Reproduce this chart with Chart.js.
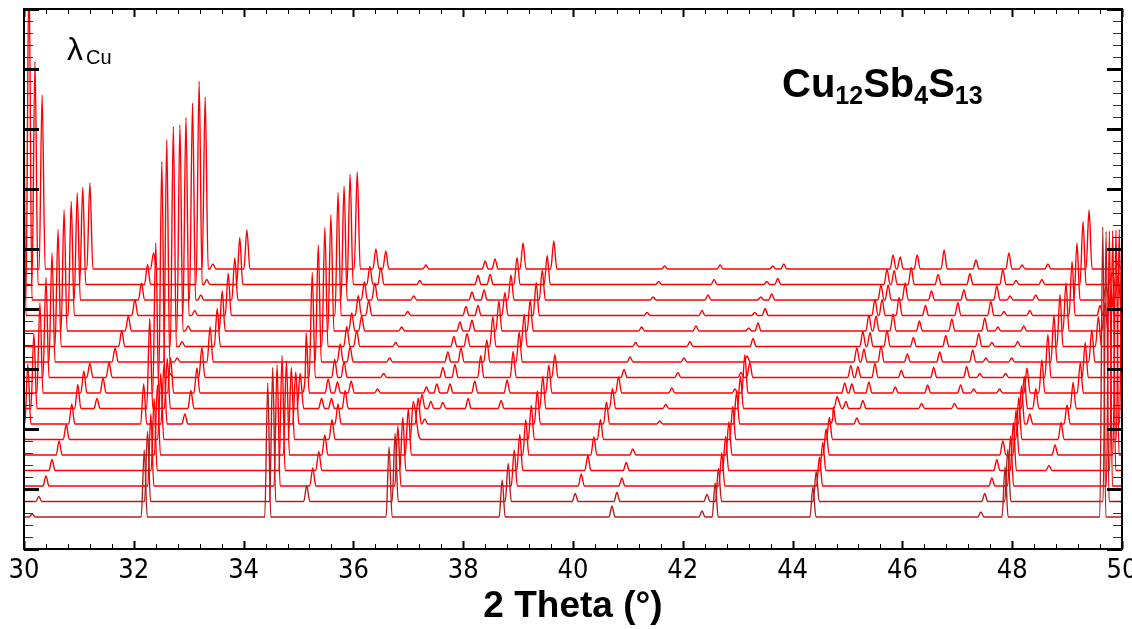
<!DOCTYPE html>
<html>
<head>
<meta charset="utf-8">
<title>Cu12Sb4S13 - 2 Theta</title>
<script src="https://cdn.jsdelivr.net/npm/chart.js@4.4.1/dist/chart.umd.min.js"></script>
<style>
  body { margin: 0; background: #fff; }
  #box { width: 1132px; height: 629px; }
</style>
</head>
<body>
<div id="box"><canvas id="xrd" width="1132" height="629"></canvas></div>
<script>
const n = null;

// x axis range and labels
const xMin = 30;
const xMax = 50;
const xTickLabels = [30, 32, 34, 36, 38, 40, 42, 44, 46, 48, 50];

// 17 patterns, index 0 = bottom pattern, 16 = top pattern
const traceCount = 17;
const firstBaseline = 32;   // y value of the bottom pattern baseline
const baselineStep = 15.5;  // vertical offset between patterns

// peak positions (2 theta) and heights, one pair of arrays per reflection, per pattern
const posA   = [30.15,30.27,30.40,30.51,30.64,30.77,30.87,30.98,31.09,31.20,n,n,n,n,n,n,n];
const ampA   = [3,5,10,11,14,15,20,24,22,14,n,n,n,n,n,n,n];

const posU1  = [n,n,n,n,n,n,n,n,n,n,n,n,n,29.98,30.09,30.20,30.33];
const ampU1  = [n,n,n,n,n,n,n,n,n,n,n,n,n,330,330,223,174];

const posU2  = [n,n,n,n,n,29.96,30.07,30.18,30.29,30.40,30.51,30.62,30.73,30.86,30.97,31.07,31.20];
const ampU2  = [n,n,n,n,n,50,60,75,90,100,109,117,121,114,107,97,86];

const posU3  = [n,n,n,n,n,n,n,31.33,31.44,31.55,31.66,31.78,31.90,32.02,32.14,32.25,32.36];
const ampU3  = [n,n,n,n,n,n,n,10,15,15,14,16,15,16,17,20,16];

const posL1  = [32.19,32.25,32.31,32.37,32.43,32.49,32.55,32.61,32.67,n,n,n,n,n,n,n,n];
const ampL1  = [67,70,72,72,70,66,60,50,35,n,n,n,n,n,n,n,n];

const posU4  = [n,n,n,n,n,n,32.18,32.29,32.40,32.51,32.60,32.72,32.84,32.95,33.07,33.19,33.30];
const ampU4  = [n,n,n,n,n,n,40,90,150,216,222,220,206,198,197,203,172];

const posU5  = [n,n,n,n,n,n,n,n,n,32.66,32.79,32.88,32.99,33.11,33.22,33.33,33.44];
const ampU5  = [n,n,n,n,n,n,n,n,n,4,4,5,5,5,5,5,5];

const posU6  = [n,n,n,n,n,n,32.93,33.04,33.15,33.24,33.39,33.52,33.61,33.72,33.84,33.93,34.06];
const ampU6  = [n,n,n,n,n,n,10,18,25,30,35,38,40,42,42,47,39];

const posL2  = [34.44,34.53,34.61,34.70,34.78,34.87,34.95,35.04,35.12,n,n,n,n,n,n,n,n];
const ampL2  = [134,134,121,115,94,72,52,32,15,n,n,n,n,n,n,n,n];

const posL10 = [n,35.15,35.26,35.37,35.48,35.61,35.72,35.85,35.96,n,n,n,n,n,n,n,n];
const ampL10 = [n,16,18,19,20,20,20,18,12,n,n,n,n,n,n,n,n];

const posU7  = [n,n,n,n,n,n,n,35.03,35.14,35.25,35.36,35.48,35.59,35.72,35.83,35.94,36.07];
const ampU7  = [n,n,n,n,n,n,n,35,60,105,117,119,116,123,114,110,97];

const posU8a = [n,n,n,n,n,n,n,35.42,35.54,35.66,35.76,35.88,35.97,36.09,36.20,36.30,36.41];
const ampU8a = [n,n,n,n,n,n,n,10,14,18,18,20,18,20,18,18,20];
const posU8b = [n,n,n,n,n,n,n,35.60,35.71,35.83,35.94,36.06,36.15,36.28,36.39,36.50,36.59];
const ampU8b = [n,n,n,n,n,n,n,10,11,16,15,16,15,15,17,17,18];

const posU9  = [n,n,n,n,n,n,n,n,36.44,36.55,36.66,36.77,36.88,36.99,37.10,37.21,37.32];
const ampU9  = [n,n,n,n,n,n,n,n,4,4,4,4,4,4,4,4,4];

const posL3  = [36.65,36.76,36.81,36.90,37.00,37.09,37.18,37.25,37.33,n,n,n,n,n,n,n,n];
const ampL3  = [70,68,60,53,46,38,26,14,6,n,n,n,n,n,n,n,n];

const posU10 = [n,n,n,n,n,37.19,37.30,37.41,37.52,37.63,37.72,37.83,37.94,38.05,38.16,38.27,38.40];
const ampU10 = [n,n,n,n,n,4,5,7,9,10,10,10,9,9,8,9,8];

const posU11 = [n,n,n,n,n,n,n,37.63,37.76,37.85,37.96,38.07,38.16,38.27,38.38,38.49,38.58];
const ampU11 = [n,n,n,n,n,n,n,6,9,13,14,13,11,10,10,10,10];

const posU12 = [n,n,n,n,n,n,n,38.09,38.21,38.32,38.43,38.54,38.65,38.76,38.87,38.98,39.09];
const ampU12 = [n,n,n,n,n,n,n,10,12,22,22,30,30,23,25,27,26];

const posU13 = [n,n,n,n,n,n,n,38.69,38.80,38.91,39.02,39.11,39.22,39.33,39.44,39.53,39.65];
const ampU13 = [n,n,n,n,n,n,n,8,13,26,30,32,31,33,30,29,28];

const posL4  = [38.71,38.82,38.93,39.03,39.14,39.24,39.35,39.45,39.56,39.67,n,n,n,n,n,n,n];
const ampL4  = [37,38,36,36,35,34,33,32,28,23,n,n,n,n,n,n,n];

const posL5  = [n,40.04,40.15,40.27,40.38,40.50,40.61,40.72,40.83,40.93,41.04,41.14,41.25,41.35,41.46,41.56,41.67];
const ampL5  = [n,8,12,15,18,20,22,20,16,8,5,4,4,3,3,3,3];

const posL5b = [40.71,40.80,40.89,40.97,41.09,n,n,n,n,n,n,n,n,n,n,n,n];
const ampL5b = [11,9,8,8,6,n,n,n,n,n,n,n,n,n,n,n,n];

const posU16 = [n,n,n,n,n,n,41.58,41.69,41.80,41.91,42.02,42.13,42.24,42.35,42.46,42.57,42.68];
const ampU16 = [n,n,n,n,n,n,3,4,5,5,4,5,5,5,5,5,4];

const posL6  = [42.59,42.65,42.71,42.78,42.84,42.91,42.98,43.05,43.13,43.22,n,n,n,n,n,n,n];
const ampL6  = [34,33,33,34,33,33,32,32,38,15,n,n,n,n,n,n,n];

const posL6b = [42.35,42.44,n,n,n,n,n,n,n,n,n,n,n,n,n,n,n];
const ampL6b = [6,7,n,n,n,n,n,n,n,n,n,n,n,n,n,n,n];

const posU15 = [n,n,n,n,n,n,n,n,42.95,43.06,43.17,43.28,43.37,43.50,43.62,43.73,43.84];
const ampU15 = [n,n,n,n,n,n,n,n,4,5,6,8,8,7,6,6,5];

const posU15b = [n,n,n,n,n,n,n,n,n,n,n,n,43.20,43.31,43.42,43.53,43.64];
const ampU15b = [n,n,n,n,n,n,n,n,n,n,n,n,3,3,3,3,3];

const posL7  = [44.37,44.43,44.49,44.55,44.61,44.67,44.74,44.81,n,n,n,n,n,n,n,n,n];
const ampL7  = [30,30,29,28,26,22,17,12,n,n,n,n,n,n,n,n,n];

const posU17 = [n,n,n,n,n,n,44.73,44.84,44.95,45.06,45.17,45.28,45.39,45.50,45.61,45.72,45.83];
const ampU17 = [n,n,n,n,n,n,5,8,10,12,14,15,16,16,15,15,14];

const posU18 = [n,n,n,n,n,n,n,44.97,45.08,45.19,45.30,45.41,45.52,45.63,45.74,45.85,45.96];
const ampU18 = [n,n,n,n,n,n,n,7,9,11,13,14,15,16,15,14,12];

const posU19 = [n,n,n,n,n,n,45.17,45.28,45.39,45.50,45.61,45.72,45.83,45.94,46.05,46.16,46.27];
const ampU19 = [n,n,n,n,n,n,6,8,11,14,16,16,17,18,17,17,14];

const posU20 = [n,n,n,n,n,n,n,n,45.87,45.98,46.09,46.20,46.31,46.42,46.53,46.65,46.76];
const ampU20 = [n,n,n,n,n,n,n,n,6,7,8,9,10,10,9,10,19];

const posU21 = [n,n,n,n,n,n,n,46.35,46.46,46.57,46.68,46.79,46.90,47.01,47.12,47.23,47.34];
const ampU21 = [n,n,n,n,n,n,n,5,8,10,10,11,12,13,10,11,9];

const posU22 = [n,n,n,n,n,n,n,46.95,47.06,47.17,47.28,47.39,47.50,47.61,47.72,47.83,47.94];
const ampU22 = [n,n,n,n,n,n,n,5,8,11,12,13,13,14,14,15,16];

const posU23 = [n,n,n,n,n,n,n,n,47.30,47.41,47.52,47.63,47.74,47.85,47.96,48.07,48.18];
const ampU23 = [n,n,n,n,n,n,n,n,4,4,4,4,4,4,4,4,4];

const posU24 = [n,n,n,n,n,n,n,n,47.77,47.88,47.99,48.10,48.21,48.32,48.43,48.54,48.65];
const ampU24 = [n,n,n,n,n,n,n,n,4,4,4,5,5,5,5,5,5];

const posL8  = [47.87,47.92,47.97,48.02,48.07,48.12,48.17,48.22,48.27,n,n,n,n,n,n,n,n];
const ampL8  = [50,52,50,48,45,42,38,32,25,n,n,n,n,n,n,n,n];

const posL8b = [47.43,47.50,47.63,47.72,47.83,n,n,n,n,n,n,n,n,n,n,n,n];
const ampL8b = [5,8,8,11,14,n,n,n,n,n,n,n,n,n,n,n,n];

const posU25 = [n,n,n,n,n,n,48.32,48.43,48.54,48.65,48.76,48.87,48.98,49.09,49.18,49.29,49.40];
const ampU25 = [n,n,n,n,n,n,10,20,33,43,47,52,48,54,57,63,59];

const posU26 = [n,n,n,48.67,48.78,48.89,49.00,49.11,49.24,49.33,49.45,49.57,49.69,49.80,49.92,50.03,n];
const ampU26 = [n,n,n,5,10,17,19,26,30,35,32,30,28,26,24,22,n];

const posU27 = [n,n,n,n,n,n,n,n,n,n,n,n,n,49.60,49.71,49.82,49.93];
const ampU27 = [n,n,n,n,n,n,n,n,n,n,n,n,n,10,14,12,6];

const posL9  = [49.65,49.71,49.77,49.83,49.89,49.95,50.01,n,n,n,n,n,n,n,n,n,n];
const ampL9  = [290,270,255,240,225,210,200,n,n,n,n,n,n,n,n,n,n];

const reflections = [
  [posA, ampA], [posU1, ampU1], [posU2, ampU2], [posU3, ampU3], [posL1, ampL1],
  [posU4, ampU4], [posU5, ampU5], [posU6, ampU6], [posL2, ampL2], [posL10, ampL10],
  [posU7, ampU7], [posU8a, ampU8a], [posU8b, ampU8b], [posU9, ampU9], [posL3, ampL3],
  [posU10, ampU10], [posU11, ampU11], [posU12, ampU12], [posU13, ampU13], [posL4, ampL4],
  [posL5, ampL5], [posL5b, ampL5b], [posU16, ampU16], [posL6, ampL6], [posL6b, ampL6b],
  [posU15, ampU15], [posU15b, ampU15b], [posL7, ampL7], [posU17, ampU17], [posU18, ampU18],
  [posU19, ampU19], [posU20, ampU20], [posU21, ampU21], [posU22, ampU22], [posU23, ampU23],
  [posU24, ampU24], [posL8, ampL8], [posL8b, ampL8b], [posU25, ampU25], [posU26, ampU26],
  [posU27, ampU27], [posL9, ampL9]
];

const HALF_WIDTH = 0.055; // peak half width at the base, degrees

// line for one pattern: flat baseline with one apex per reflection
function buildTrace(k) {
  const base = firstBaseline + baselineStep * k;
  const peaks = [];
  reflections.forEach(([pos, amp]) => {
    if (pos[k] != null && amp[k]) peaks.push([pos[k], amp[k]]);
  });
  peaks.sort((a, b) => a[0] - b[0]);
  const pts = [{ x: xMin - 0.5, y: base }];
  peaks.forEach(([p, h], i) => {
    const prev = peaks[i - 1];
    const next = peaks[i + 1];
    if (!prev || p - prev[0] > 2 * HALF_WIDTH) pts.push({ x: p - HALF_WIDTH, y: base });
    pts.push({ x: p, y: base + h });
    if (!next || next[0] - p > 2 * HALF_WIDTH) pts.push({ x: p + HALF_WIDTH, y: base });
  });
  pts.push({ x: xMax + 0.5, y: base });
  return pts;
}

const datasets = [];
for (let k = 0; k < traceCount; k++) {
  datasets.push({
    data: buildTrace(k),
    borderColor: k < 2 ? "#b81c1c" : "#ff0000",
    borderWidth: 1.4,
    pointRadius: 0,
    fill: false,
    cubicInterpolationMode: "monotone",
  });
}

const NARROW = "'Liberation Sans Narrow', 'Arial Narrow', 'DejaVu Sans Condensed', sans-serif";
const SANS = "'Liberation Sans', Arial, sans-serif";

// box around the plot with inward tick marks on all four sides
const frameTicks = {
  id: "frameTicks",
  afterDatasetsDraw(chart) {
    const { ctx, chartArea: a, scales } = chart;
    const x = scales.x;
    const y = scales.y;
    ctx.save();
    ctx.strokeStyle = "#000";
    ctx.lineCap = "butt";

    for (let k = 0; k <= 50; k++) {
      const px = Math.round(x.getPixelForValue(xMin + k * 0.4)) + 0.5;
      const major = k % 5 === 0;
      const len = major ? 8 : 5;
      ctx.lineWidth = major ? 2 : 1;
      ctx.beginPath();
      ctx.moveTo(px, a.bottom);
      ctx.lineTo(px, a.bottom - len);
      ctx.moveTo(px, a.top);
      ctx.lineTo(px, a.top + len);
      ctx.stroke();
    }

    for (let k = 0; k <= 45; k++) {
      const py = Math.round(y.getPixelForValue(k * 12)) + 0.5;
      const major = k % 5 === 0;
      const len = major ? 15 : 9;
      ctx.lineWidth = major ? 3 : 1.2;
      ctx.strokeStyle = major ? "#000" : "#333";
      ctx.beginPath();
      ctx.moveTo(a.left, py);
      ctx.lineTo(a.left + len, py);
      ctx.moveTo(a.right, py);
      ctx.lineTo(a.right - len, py);
      ctx.stroke();
    }

    ctx.strokeStyle = "#000";
    ctx.lineWidth = 2;
    ctx.strokeRect(a.left, a.top, a.right - a.left, a.bottom - a.top);
    ctx.restore();
  },
};

// wavelength note and compound formula
const labels = {
  id: "labels",
  afterDraw(chart) {
    const { ctx } = chart;
    ctx.save();
    ctx.fillStyle = "#000";
    ctx.textBaseline = "alphabetic";
    ctx.font = "32px " + SANS;
    ctx.fillText("λ", 67, 60);
    ctx.font = "20px " + SANS;
    ctx.fillText("Cu", 86, 64);

    const parts = [
      ["Cu", false], ["12", true], ["Sb", false], ["4", true], ["S", false], ["13", true],
    ];
    let cx = 782;
    parts.forEach(([t, sub]) => {
      ctx.font = sub ? "bold 25px " + SANS : "bold 40px " + SANS;
      ctx.fillText(t, cx, sub ? 104 : 97);
      cx += ctx.measureText(t).width;
    });
    ctx.restore();
  },
};

new Chart(document.getElementById("xrd"), {
  type: "line",
  data: { datasets },
  options: {
    responsive: false,
    animation: false,
    layout: { padding: { left: 24, right: 10, top: 9, bottom: 0 } },
    plugins: { legend: { display: false }, tooltip: { enabled: false } },
    scales: {
      x: {
        type: "linear",
        min: xMin,
        max: xMax,
        grid: { display: false, drawTicks: false },
        border: { display: false },
        ticks: {
          stepSize: 2,
          padding: 6,
          color: "#000",
          maxRotation: 0,
          autoSkip: false,
          font: { family: NARROW, size: 27 },
          callback: (v) => (xTickLabels.includes(v) ? String(v) : ""),
        },
        title: {
          display: true,
          text: "2 Theta (°)",
          color: "#000",
          font: { family: SANS, size: 37, weight: "bold", lineHeight: 1 },
          padding: { top: 0, bottom: 4 },
        },
        afterFit(scale) {
          scale.height = 80;
          scale.paddingLeft = 0;
          scale.paddingRight = 0;
        },
      },
      y: { type: "linear", display: false, min: 0, max: 540 },
    },
  },
  plugins: [frameTicks, labels],
});
</script>
</body>
</html>
